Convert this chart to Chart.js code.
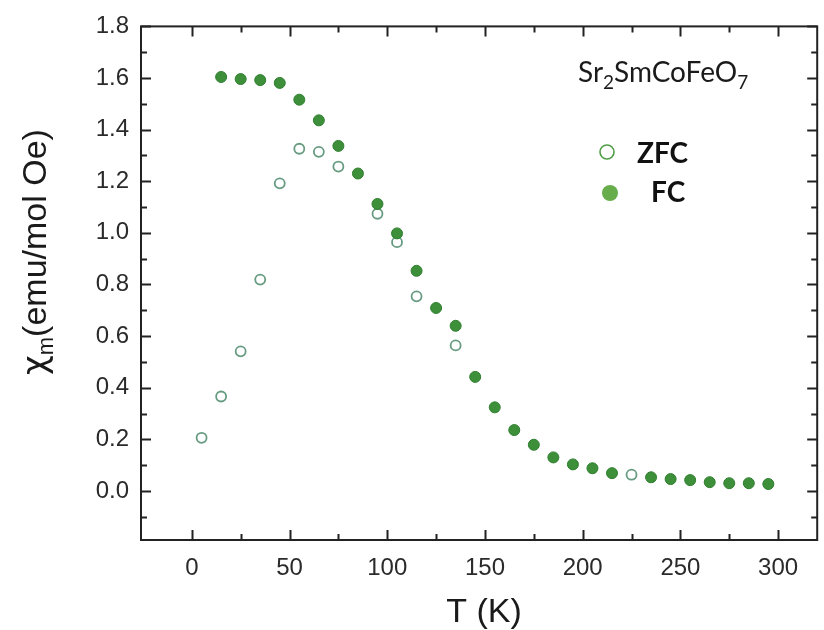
<!DOCTYPE html>
<html>
<head>
<meta charset="utf-8">
<title>Sr2SmCoFeO7 susceptibility</title>
<script src="https://cdn.jsdelivr.net/npm/chart.js@4.4.1/dist/chart.umd.min.js"></script>
<style>
  html, body { margin: 0; padding: 0; background: #fff; }
  #wrap { width: 824px; height: 630px; position: relative; }
</style>
</head>
<body>
<div id="wrap"><canvas id="chiChart"></canvas></div>
<script>
// ---- data: molar susceptibility vs temperature ----
const tempFC = [15, 25, 35, 45, 55, 65, 75, 85, 95, 105, 115, 125, 135, 145, 155, 165, 175, 185, 195, 205, 215, 235, 245, 255, 265, 275, 285, 295];
const chiFC  = [1.604, 1.596, 1.592, 1.581, 1.516, 1.436, 1.337, 1.230, 1.112, 0.998, 0.853, 0.709, 0.640, 0.442, 0.324, 0.236, 0.179, 0.130, 0.103, 0.088, 0.069, 0.053, 0.046, 0.042, 0.034, 0.030, 0.030, 0.027];

const tempZFC = [5, 15, 25, 35, 45, 55, 65, 75, 95, 105, 115, 135, 225];
const chiZFC  = [0.206, 0.366, 0.541, 0.819, 1.192, 1.326, 1.314, 1.257, 1.074, 0.964, 0.754, 0.564, 0.063];

// ---- axes ----
const xMajorTicks = [0, 50, 100, 150, 200, 250, 300];
const xMinorTicks = [25, 75, 125, 175, 225, 275];
const yMajorTicks = [0, 0.2, 0.4, 0.6, 0.8, 1.0, 1.2, 1.4, 1.6, 1.8];
const yMinorTicks = [-0.1, 0.1, 0.3, 0.5, 0.7, 0.9, 1.1, 1.3, 1.5, 1.7];

const AXIS_FONT = "'Liberation Sans', Arial, sans-serif";
const GREEK_FONT = "'DejaVu Sans', sans-serif";
const NOTE_FONT = "Lato, 'Open Sans', sans-serif";
const INK = '#222';

const toPoints = (xs, ys) => xs.map((x, i) => ({ x: x, y: ys[i] }));

// inward ticks on all four sides, box frame, axis titles, formula and key
const framePlugin = {
  id: 'frame',
  afterDatasetsDraw(chart) {
    const { ctx, chartArea: a, scales: { x, y } } = chart;
    ctx.save();
    ctx.strokeStyle = INK;
    ctx.lineWidth = 2;
    ctx.strokeRect(a.left, a.top, a.right - a.left, a.bottom - a.top);

    const tickX = (vals, len) => vals.forEach(v => {
      const px = Math.round(x.getPixelForValue(v)) + 0.5;
      ctx.beginPath();
      ctx.moveTo(px, a.bottom); ctx.lineTo(px, a.bottom - len);
      ctx.moveTo(px, a.top);    ctx.lineTo(px, a.top + len);
      ctx.stroke();
    });
    const tickY = (vals, len) => vals.forEach(v => {
      const py = Math.round(y.getPixelForValue(v)) + 0.5;
      ctx.beginPath();
      ctx.moveTo(a.left, py);  ctx.lineTo(a.left + len, py);
      ctx.moveTo(a.right, py); ctx.lineTo(a.right - len, py);
      ctx.stroke();
    });
    tickX(xMajorTicks, 10);
    tickX(xMinorTicks, 6);
    tickY(yMajorTicks, 10);
    tickY(yMinorTicks, 6);
    ctx.restore();
  },
  afterDraw(chart) {
    const { ctx, chartArea: a } = chart;
    ctx.save();
    ctx.fillStyle = '#1a1a1a';
    ctx.textBaseline = 'alphabetic';

    // x title
    ctx.font = `34px ${AXIS_FONT}`;
    ctx.textAlign = 'center';
    ctx.fillText('T (K)', (a.left + a.right) / 2 + 5, 622);

    // y title, rotated, with subscript m
    ctx.translate(46, 252);
    ctx.rotate(-Math.PI / 2);
    const greek = `34px ${GREEK_FONT}`, big = `34px ${AXIS_FONT}`, small = `22px ${AXIS_FONT}`;
    ctx.font = greek;
    const wChi = ctx.measureText('χ').width;
    ctx.font = big;
    const wRest = ctx.measureText('(emu/mol Oe)').width;
    ctx.font = small;
    const wSub = ctx.measureText('m').width;
    let cx = -(wChi + wSub + wRest) / 2;
    ctx.textAlign = 'left';
    ctx.font = greek; ctx.fillText('χ', cx, 0); cx += wChi;
    ctx.font = small; ctx.fillText('m', cx, 7); cx += wSub;
    ctx.font = big;   ctx.fillText('(emu/mol Oe)', cx, 0);
    ctx.restore();

    // compound formula with subscripts
    ctx.save();
    ctx.fillStyle = '#1a1a1a';
    ctx.textAlign = 'left';
    const parts = [['Sr', 0], ['2', 1], ['SmCoFeO', 0], ['7', 1]];
    let fx = 578;
    parts.forEach(([txt, sub]) => {
      ctx.font = sub ? `19px ${NOTE_FONT}` : `28px ${NOTE_FONT}`;
      ctx.fillText(txt, fx, sub ? 89 : 82);
      fx += ctx.measureText(txt).width;
    });

    // key
    ctx.lineWidth = 1.6;
    ctx.strokeStyle = '#4f9e45';
    ctx.fillStyle = '#fff';
    ctx.beginPath(); ctx.arc(607, 152, 7, 0, Math.PI * 2); ctx.fill(); ctx.stroke();
    ctx.fillStyle = '#68ad4c';
    ctx.beginPath(); ctx.arc(610, 193, 8, 0, Math.PI * 2); ctx.fill();
    ctx.fillStyle = '#111';
    ctx.font = `bold 28px ${NOTE_FONT}`;
    ctx.fillText('ZFC', 637, 163);
    ctx.fillText('FC', 651, 202);
    ctx.restore();
  }
};

new Chart(document.getElementById('chiChart'), {
  type: 'scatter',
  data: {
    datasets: [
      {
        label: 'FC',
        data: toPoints(tempFC, chiFC),
        pointStyle: 'circle',
        pointRadius: 5.5,
        pointBackgroundColor: '#3d8f3a',
        pointBorderColor: '#2f7f30',
        pointBorderWidth: 1,
        order: 0
      },
      {
        label: 'ZFC',
        data: toPoints(tempZFC, chiZFC),
        pointStyle: 'circle',
        pointRadius: 5,
        pointBackgroundColor: '#ffffff',
        pointBorderColor: '#679c82',
        pointBorderWidth: 1.8,
        order: 1
      }
    ]
  },
  options: {
    responsive: true,
    maintainAspectRatio: false,
    animation: false,
    layout: { padding: { top: 17, right: 4, left: 0, bottom: 0 } },
    plugins: {
      legend: { display: false },
      tooltip: { enabled: false }
    },
    scales: {
      x: {
        type: 'linear',
        min: -26,
        max: 320,
        afterBuildTicks: s => { s.ticks = xMajorTicks.map(v => ({ value: v })); },
        afterFit: s => { s.height = 90; },
        grid: { display: false, drawTicks: false },
        border: { display: false },
        ticks: {
          padding: 14,
          color: '#2a2a2a',
          font: { family: AXIS_FONT, size: 24 },
          maxRotation: 0,
          callback: v => String(v)
        }
      },
      y: {
        type: 'linear',
        min: -0.19,
        max: 1.8,
        afterBuildTicks: s => { s.ticks = yMajorTicks.map(v => ({ value: v })); },
        afterFit: s => { s.width = 141; },
        grid: { display: false, drawTicks: false },
        border: { display: false },
        ticks: {
          padding: 12,
          color: '#2a2a2a',
          font: { family: AXIS_FONT, size: 24 },
          callback: v => v.toFixed(1)
        }
      }
    }
  },
  plugins: [framePlugin]
});
</script>
</body>
</html>
